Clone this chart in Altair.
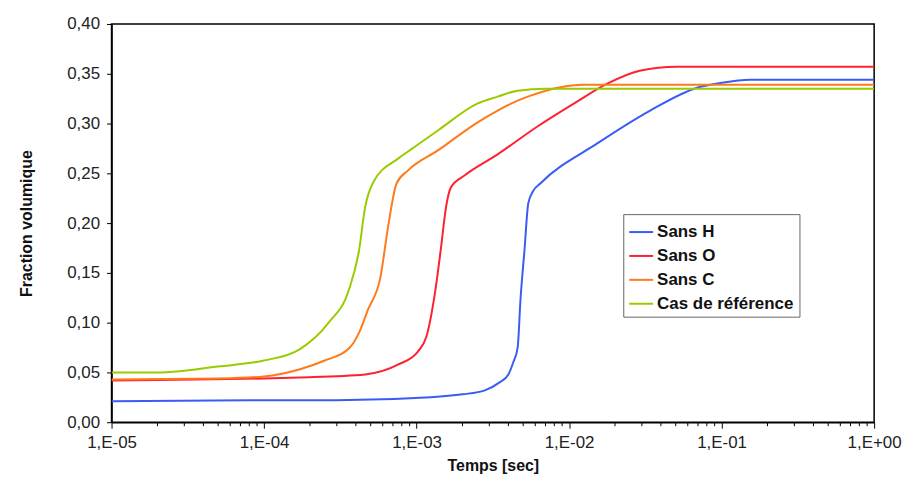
import altair as alt
import pandas as pd

series_names = ["Sans H", "Sans O", "Sans C", "Cas de référence"]
series_colors = ["#3a5cf5", "#ff2030", "#ff7a1a", "#99cc00"]

h_x = [1e-5, 1e-4, 3e-4, 1.24e-3, 2.0e-3, 2.8e-3, 3.5e-3, 4.0e-3, 4.3e-3, 4.6e-3,
       4.8e-3, 5.1e-3, 5.4e-3, 5.8e-3, 6.5e-3, 1.53e-2, 3.4e-2, 6.9e-2, 1.0e-1, 1.53e-1, 1.0]
h_y = [0.021, 0.022, 0.022, 0.025, 0.028, 0.032, 0.040, 0.048, 0.060, 0.075,
       0.123, 0.173, 0.220, 0.232, 0.240, 0.280, 0.313, 0.336, 0.341, 0.344, 0.344]

o_x = [1e-5, 1e-4, 1.7e-4, 4.6e-4, 7.6e-4, 1.02e-3, 1.16e-3, 1.32e-3, 1.44e-3, 1.56e-3,
       1.68e-3, 2.07e-3, 3.4e-3, 6.2e-3, 1.1e-2, 1.78e-2, 2.9e-2, 5.1e-2, 1.0]
o_y = [0.042, 0.044, 0.045, 0.048, 0.058, 0.071, 0.086, 0.130, 0.173, 0.216,
       0.236, 0.248, 0.269, 0.297, 0.321, 0.340, 0.353, 0.357, 0.357]

c_x = [1e-5, 5e-5, 1e-4, 1.7e-4, 2.5e-4, 3.6e-4, 4.2e-4, 4.8e-4, 5.8e-4, 6.5e-4,
       7.4e-4, 8.8e-4, 1.38e-3, 2.5e-3, 3.4e-3, 4.6e-3, 5.6e-3, 8.4e-3, 1.25e-2, 1.0]
c_y = [0.043, 0.044, 0.046, 0.053, 0.062, 0.074, 0.090, 0.113, 0.146, 0.196,
       0.240, 0.253, 0.273, 0.301, 0.313, 0.323, 0.328, 0.336, 0.339, 0.339]

r_x = [1e-5, 2e-5, 5e-5, 1e-4, 1.7e-4, 2.65e-4, 3.6e-4, 4.2e-4, 4.6e-4, 5.2e-4,
       7.6e-4, 9.2e-4, 1.38e-3, 2.5e-3, 3.4e-3, 4.6e-3, 7e-3, 1.0]
r_y = [0.050, 0.050, 0.056, 0.062, 0.073, 0.100, 0.133, 0.173, 0.216, 0.241,
       0.265, 0.274, 0.293, 0.320, 0.327, 0.333, 0.335, 0.335]

x_major = [1e-5, 1e-4, 1e-3, 1e-2, 1e-1, 1.0]
x_major_labels = ["1,E-05", "1,E-04", "1,E-03", "1,E-02", "1,E-01", "1,E+00"]
x_minor = [m * 10.0 ** e for e in range(-5, 0) for m in range(2, 10)]
y_ticks = [0.0, 0.05, 0.10, 0.15, 0.20, 0.25, 0.30, 0.35, 0.40]

rows = []
for name, xs, ys in zip(series_names, [h_x, o_x, c_x, r_x], [h_y, o_y, c_y, r_y]):
    for xv, yv in zip(xs, ys):
        rows.append({"series": name, "t": xv, "f": yv})
df = pd.DataFrame(rows)
minor_df = pd.DataFrame({"t": x_minor})

x_scale = alt.Scale(type="log", domain=[1e-5, 1.0], nice=False)

label_map = "{" + ", ".join(f"'{i}': '{s}'" for i, s in enumerate(x_major_labels)) + "}"
x_label_expr = f"{label_map}[format(round(log(datum.value)/LN10) + 5, 'd')]"

x_axis = alt.Axis(
    title="Temps [sec]",
    values=x_major,
    labelExpr=x_label_expr,
    labelOverlap=False,
    labelFlush=False,
    grid=False,
    tickSize=6,
    tickWidth=1,
    labelPadding=6,
    titlePadding=8,
)

lines = alt.Chart(df).mark_line(interpolate="monotone", strokeWidth=2, clip=True).encode(
    x=alt.X("t:Q", scale=x_scale, axis=x_axis),
    y=alt.Y(
        "f:Q",
        scale=alt.Scale(domain=[0, 0.4], nice=False, zero=True),
        axis=alt.Axis(
            title="Fraction volumique",
            values=y_ticks,
            labelExpr="replace(format(datum.value, '.2f'), '.', ',')",
            grid=False,
            tickSize=5,
            labelPadding=7,
            titlePadding=32,
        ),
    ),
    color=alt.Color(
        "series:N",
        scale=alt.Scale(domain=series_names, range=series_colors),
        sort=series_names,
        legend=alt.Legend(
            title=None,
            orient="none",
            legendX=514,
            legendY=191,
            symbolType="stroke",
            symbolSize=576,
            symbolStrokeWidth=2,
            labelFont="Liberation Sans",
            labelFontSize=17,
            labelFontWeight="bold",
            labelColor="#111111",
            labelOffset=3,
            labelLimit=300,
            rowPadding=3,
            padding=5,
            strokeColor="#666666",
            fillColor="white",
        ),
    ),
)

minor = alt.Chart(minor_df).mark_rule(color="black", strokeWidth=1, clip=False).encode(
    x=alt.X("t:Q", scale=x_scale, axis=None),
    y=alt.value(400),
    y2=alt.value(404),
)

chart = alt.layer(lines, minor).resolve_axis(x="independent").properties(
    width=766,
    height=400,
    padding={"left": 104, "top": 15, "right": 30, "bottom": 60},
    autosize=alt.AutoSizeParams(type="none"),
    background="white",
).configure_view(
    stroke="black",
    strokeWidth=1.5,
).configure_axis(
    domainColor="black",
    domainWidth=1.5,
    tickColor="black",
    labelFont="Liberation Sans",
    labelFontSize=17,
    labelColor="#222222",
    titleFont="Liberation Sans",
    titleFontSize=16,
    titleFontWeight="bold",
    titleColor="#111111",
)

chart.save("out.html", embed_options={"renderer": "svg", "actions": False})
